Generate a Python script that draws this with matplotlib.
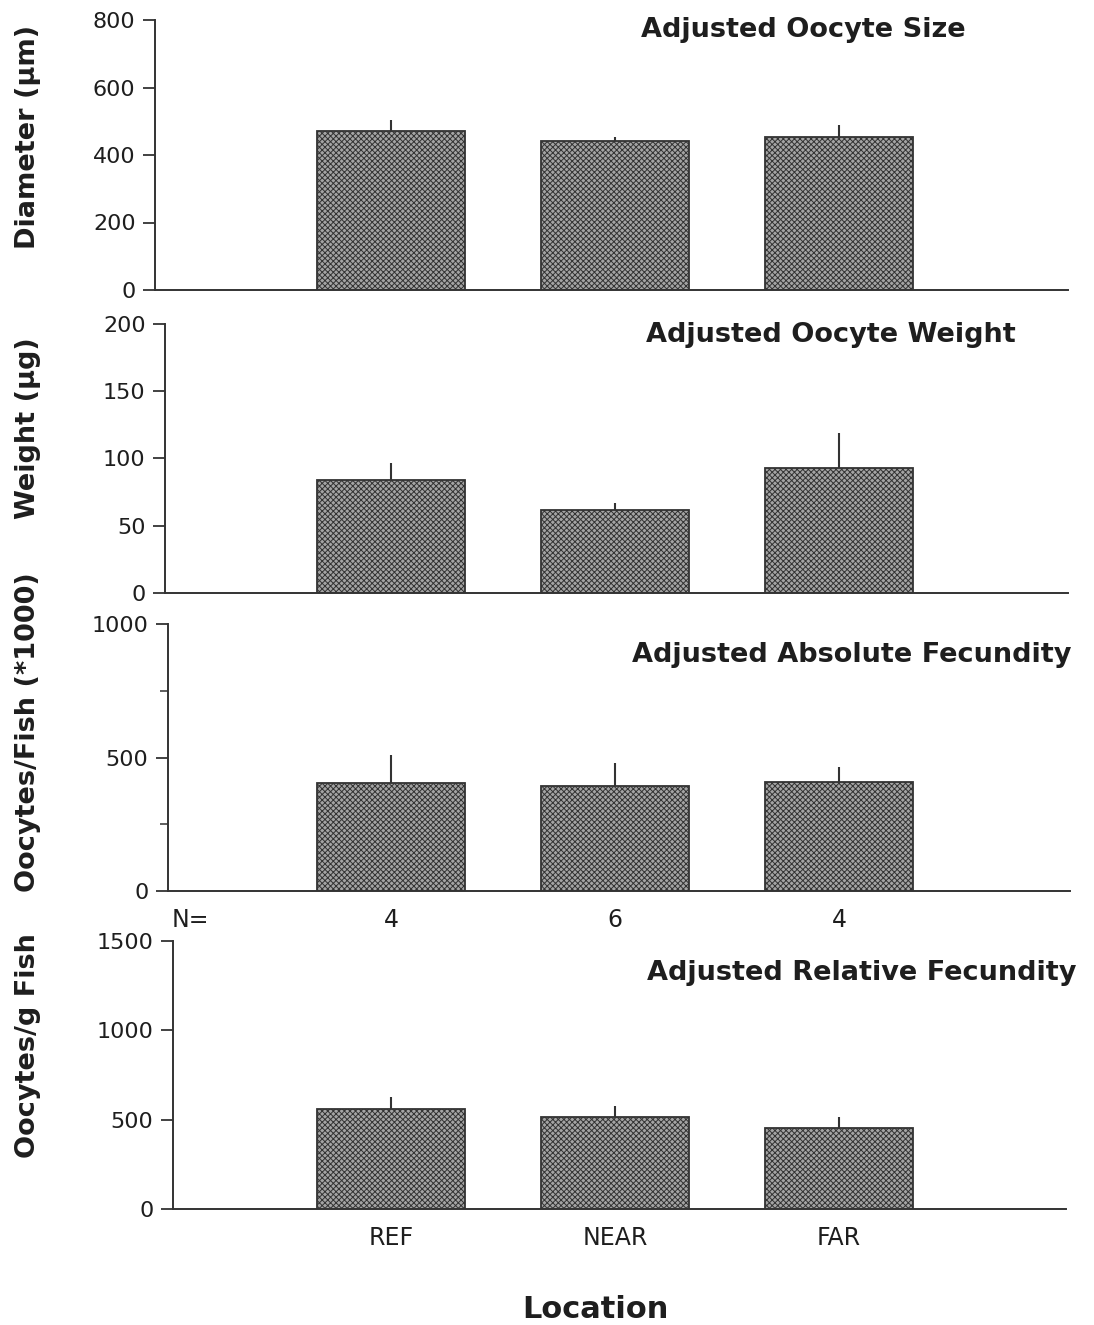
"""
Adjusted oocyte size / weight / fecundity by location, four stacked bar panels.
"""
import matplotlib
matplotlib.use("Agg")
import matplotlib.pyplot as plt
from matplotlib.ticker import FixedLocator
from matplotlib.transforms import blended_transform_factory

# data: bar means and upper error (SE) lengths
locations = ["REF", "NEAR", "FAR"]
n_fish = [4, 6, 4]

size_mean = [472, 441, 453]
size_err = [32, 12, 36]

weight_mean = [84, 62, 93]
weight_err = [13, 5, 26]

abs_fec_mean = [404, 393, 408]
abs_fec_err = [105, 86, 56]

rel_fec_mean = [560, 515, 453]
rel_fec_err = [67, 61, 62]

titles = ["Adjusted Oocyte Size", "Adjusted Oocyte Weight",
          "Adjusted Absolute Fecundity", "Adjusted Relative Fecundity"]
ylabels = ["Diameter (µm)", "Weight (µg)", "Oocytes/Fish (*1000)", "Oocytes/g Fish"]
yticks = [[0, 200, 400, 600, 800], [0, 50, 100, 150, 200], [0, 500, 1000], [0, 500, 1000, 1500]]

plt.rcParams["font.family"] = ["DejaVu Sans"]
plt.rcParams["hatch.color"] = "#333333"
plt.rcParams["hatch.linewidth"] = 0.7

W, H = 1094, 1325
fig = plt.figure(figsize=(W / 100, H / 100), dpi=100)

INK = "#333333"
TXT = "#1e1e1e"
# pixel layout of each panel: left, right, bottom, top
boxes = [(155, 1068, 290, 20), (165, 1068, 593, 324), (168, 1070, 891, 624), (173, 1066, 1209, 941)]
# x mapping so bars line up across panels: centre of bar 1 at px 391, spacing 224 px
X0_PX, DX_PX = 391, 224
title_pos = [(803, 30), (831, 335), (852, 655), (862, 973)]
ylabel_y = [137, 428, 732, 1046]

means = [size_mean, weight_mean, abs_fec_mean, rel_fec_mean]
errs = [size_err, weight_err, abs_fec_err, rel_fec_err]
xpos = [1, 2, 3]

axes = []
for i in range(4):
    l, r, b, t = boxes[i]
    ax = fig.add_axes([l / W, 1 - b / H, (r - l) / W, (b - t) / H])
    ax.set_xlim(1 + (l - X0_PX) / DX_PX, 1 + (r - X0_PX) / DX_PX)
    ax.set_ylim(0, yticks[i][-1])

    ax.bar(xpos, means[i], width=148 / DX_PX, color="#a4a4a4", edgecolor=INK,
           linewidth=1.3, hatch="xxxxxx", zorder=2)
    ax.errorbar(xpos, means[i], yerr=[[0, 0, 0], errs[i]], fmt="none",
                ecolor=INK, elinewidth=1.5, capsize=0, zorder=1)

    for s in ["top", "right"]:
        ax.spines[s].set_visible(False)
    for s in ["left", "bottom"]:
        ax.spines[s].set_color(INK)
        ax.spines[s].set_linewidth(1.4)

    ax.set_yticks(yticks[i])
    ax.tick_params(axis="y", direction="out", length=9, width=1.3, color=INK,
                   labelsize=16, pad=5, labelcolor=TXT)
    ax.tick_params(axis="x", length=0, pad=12, labelsize=17, labelcolor=TXT)
    if i == 3:
        ax.set_xticks(xpos)
        ax.set_xticklabels(locations)
    else:
        ax.set_xticks([])

    fig.text(title_pos[i][0] / W, 1 - title_pos[i][1] / H, titles[i],
             ha="center", va="center", fontsize=19.5, fontweight="bold", color=TXT)
    fig.text(28 / W, 1 - ylabel_y[i] / H, ylabels[i], rotation=90,
             ha="center", va="center", fontsize=19.5, fontweight="bold", color=TXT)
    axes.append(ax)

# unlabelled minor ticks on the absolute fecundity panel
axes[2].yaxis.set_minor_locator(FixedLocator([250, 750]))
axes[2].tick_params(axis="y", which="minor", length=6, width=1.1, color=INK)

# sample sizes under the absolute fecundity panel
trans = blended_transform_factory(axes[2].transData, axes[2].transAxes)
axes[2].text(1 + (190 - X0_PX) / DX_PX, -0.11, "N=", transform=trans,
             ha="center", va="center", fontsize=17, color=TXT)
for x, n in zip(xpos, n_fish):
    axes[2].text(x, -0.11, str(n), transform=trans, ha="center", va="center",
                 fontsize=17, color=TXT)

fig.text(595 / W, 1 - 1310 / H, "Location", ha="center", va="center",
         fontsize=22, fontweight="bold", color=TXT)

fig.savefig("out.png", dpi=100, facecolor="white")
